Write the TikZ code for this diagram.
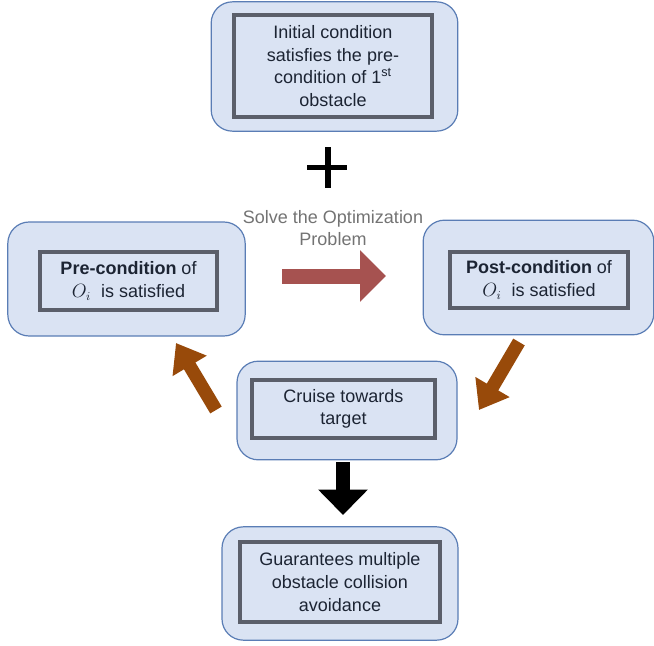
\documentclass[tikz,border=0pt]{standalone}
\usepackage{fontspec}
\setmainfont{Liberation Sans}
\usepackage{tikz}
\usetikzlibrary{arrows.meta, positioning}
\definecolor{boxfill}{HTML}{DAE3F3}
\definecolor{boxline}{HTML}{5A7DB5}
\definecolor{innerline}{HTML}{5B5F6A}
\definecolor{txtdark}{HTML}{1C2433}
\definecolor{solvered}{HTML}{A65250}
\definecolor{loopbrown}{HTML}{984A0A}

\begin{document}
\begin{tikzpicture}[x=0.75pt, y=-0.75pt,
  outer/.style={rectangle, rounded corners=16pt, draw=boxline, line width=0.9pt,
                fill=boxfill, inner sep=0pt},
  inner/.style={rectangle, draw=innerline, line width=3pt, inner sep=0pt,
                align=center, text=txtdark, font=\fontsize{13.5pt}{17pt}\selectfont},
  solve/.style={-{Triangle[length=19.5pt, width=37.5pt]}, line width=11.25pt, draw=solvered},
  loop/.style={-{Triangle[length=20pt, width=28.5pt]}, line width=10pt, draw=loopbrown},
  down/.style={-{Triangle[length=19pt, width=36pt]}, line width=10.5pt, draw=black},
]
\useasboundingbox (0,0) rectangle (654,646);
\node[outer, minimum width=185pt, minimum height=97pt] (initOut) at (334.5, 66.5) {};
\node[inner, minimum width=148pt, minimum height=76pt] (init) at (333, 66)
  {Initial condition\\satisfies the pre-\\condition of 1\textsuperscript{st}\\obstacle};
\node[outer, minimum width=178pt, minimum height=85.5pt] (preOut) at (126.5, 279) {};
\node[inner, minimum width=133pt, minimum height=43.5pt] (pre) at (128.5, 281)
  {\textbf{Pre-condition} of\\$O_i$\ \ is satisfied};
\node[outer, minimum width=173pt, minimum height=86pt] (postOut) at (538.5, 277.5) {};
\node[inner, minimum width=133.5pt, minimum height=42pt] (post) at (539, 280)
  {\textbf{Post-condition} of\\$O_i$\ \ is satisfied};
\node[outer, minimum width=165pt, minimum height=74pt] (cruiseOut) at (347, 410.5) {};
\node[inner, minimum width=137pt, minimum height=43.5pt] (cruise) at (343.5, 409)
  {Cruise towards\\target};
\node[outer, minimum width=177pt, minimum height=85pt] (guarOut) at (340, 583.5) {};
\node[inner, minimum width=150pt, minimum height=60pt] (guar) at (340, 582)
  {Guarantees multiple\\obstacle collision\\avoidance};
\node[align=center, text=black!55, font=\fontsize{13.5pt}{17pt}\selectfont] (solveLbl) at (333, 228)
  {Solve the Optimization\\Problem};
% plus sign
\draw[line width=4pt] (307,167.5) -- (347,167.5) (328,147) -- (328,188);
% block arrows
\coordinate (solveA) at (282,276);
\coordinate (solveB) at (386,276);
\coordinate (backA) at (216,410);
\coordinate (backB) at (176,343);
\coordinate (fwdA) at (519,342);
\coordinate (fwdB) at (479,410);
\coordinate (downA) at (343,462);
\coordinate (downB) at (343,515);
\draw[solve] (solveA) -- (solveB);
\draw[loop] (fwdA) -- (fwdB);
\draw[loop] (backA) -- (backB);
\draw[down] (downA) -- (downB);
\end{tikzpicture}
\end{document}
